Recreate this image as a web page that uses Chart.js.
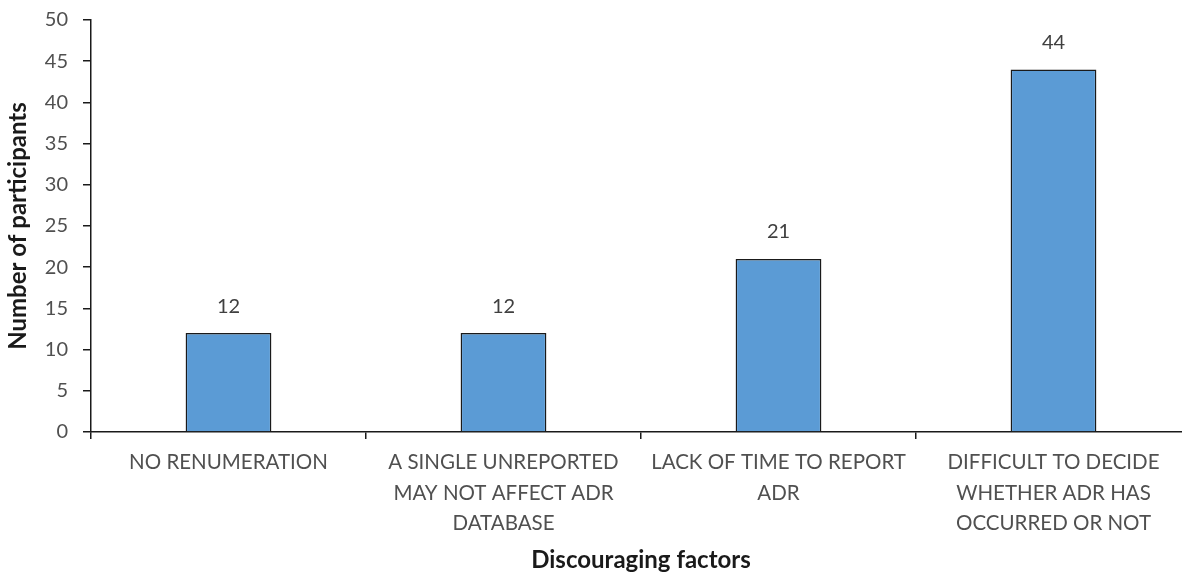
<!DOCTYPE html>
<html>
<head>
<meta charset="utf-8">
<script src="https://cdn.jsdelivr.net/npm/chart.js@4.4.1/dist/chart.umd.min.js"></script>
<style>
  html, body { margin: 0; padding: 0; background: #fff; overflow: hidden; }
  #wrap { width: 1192px; height: 577px; }
</style>
</head>
<body>
<div id="wrap"><canvas id="factorChart" width="1192" height="577"></canvas></div>
<script>
const categories = [
  ['NO RENUMERATION'],
  ['A SINGLE UNREPORTED', 'MAY NOT AFFECT ADR', 'DATABASE'],
  ['LACK OF TIME TO REPORT', 'ADR'],
  ['DIFFICULT TO DECIDE', 'WHETHER ADR HAS', 'OCCURRED OR NOT']
];
const participants = [12, 12, 21, 44];
const yTicks = [0, 5, 10, 15, 20, 25, 30, 35, 40, 45, 50];

const FONT = 'Lato, "Open Sans", sans-serif';

// draws the value above each bar
const valueLabels = {
  id: 'valueLabels',
  afterDatasetsDraw(chart) {
    const ctx = chart.ctx;
    const meta = chart.getDatasetMeta(0);
    ctx.save();
    ctx.font = '20px ' + FONT;
    ctx.fillStyle = '#404040';
    ctx.textAlign = 'center';
    ctx.textBaseline = 'middle';
    meta.data.forEach((bar, i) => {
      ctx.fillText(participants[i], bar.x, bar.y - 27);
    });
    ctx.restore();
  }
};

new Chart(document.getElementById('factorChart'), {
  type: 'bar',
  data: {
    labels: categories,
    datasets: [{
      label: 'Number of participants',
      data: participants,
      backgroundColor: '#5B9BD5',
      borderColor: '#1a1a1a',
      borderWidth: 1.5,
      categoryPercentage: 1,
      barPercentage: 0.312
    }]
  },
  options: {
    responsive: false,
    animation: false,
    layout: { padding: { top: 20, right: 1, bottom: 0, left: 0 } },
    plugins: {
      legend: { display: false },
      tooltip: { enabled: false }
    },
    scales: {
      x: {
        grid: { drawOnChartArea: false, drawTicks: true, tickLength: 7, color: '#1a1a1a', lineWidth: 1.5 },
        border: { display: true, color: '#1a1a1a', width: 1.5 },
        ticks: {
          color: '#505050',
          font: { size: 20.5, family: FONT, lineHeight: 1.5 },
          padding: 8,
          maxRotation: 0,
          autoSkip: false
        },
        title: {
          display: true,
          text: 'Discouraging factors',
          color: '#1a1a1a',
          font: { size: 24, weight: 'bold', family: FONT },
          padding: { top: 0, bottom: 2 }
        },
        afterFit(scale) { scale.height = 145; }
      },
      y: {
        min: 0,
        max: 50,
        afterBuildTicks(scale) { scale.ticks = yTicks.map(v => ({ value: v })); },
        grid: { drawOnChartArea: false, drawTicks: true, tickLength: 8, color: '#1a1a1a', lineWidth: 1.5 },
        border: { display: true, color: '#1a1a1a', width: 1.5 },
        ticks: {
          color: '#505050',
          font: { size: 20, family: FONT, lineHeight: 1 },
          padding: 15
        },
        title: {
          display: true,
          text: 'Number of participants',
          color: '#1a1a1a',
          font: { size: 24, weight: 'bold', family: FONT },
          padding: { top: 4, bottom: 0 }
        },
        afterFit(scale) {
          scale.width = 91;
          scale.paddingTop = 0;
          scale.paddingBottom = 0;
        }
      }
    }
  },
  plugins: [valueLabels]
});
</script>
</body>
</html>
